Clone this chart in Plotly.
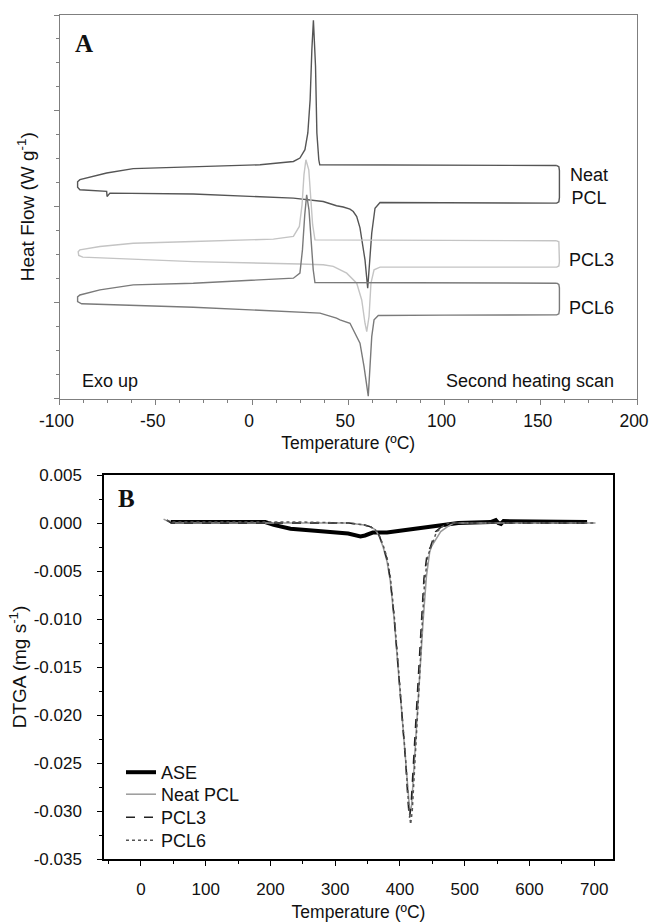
import plotly.graph_objects as go

# ---------------- Panel A : DSC (cooling + second heating loops) ----------------
dsc_neat_T = [158.3, 100, 40, 35.2, 34.7, 33.7, 33.0, 31.9, 31.1, 30.2, 29.0, 27.5, 24.9, 21.5, 4.2,
              -30.5, -61.7, -75.5, -89.4, -90.6, -90.6, -89.4, -75.5, -75.3, -74.5, -73.8, -30.5, 21.5,
              37, 43.9, 47.4, 50.9, 52.6, 54.4, 56.1, 58.7, 60.1, 61.3, 62.2, 63.9, 66.5, 100, 158.3,
              159.4, 159.7, 159.7, 159.4, 158.3]
dsc_neat_HF = [9.72, 9.73, 9.75, 9.75, 9.96, 11.08, 13.86, 15.78, 14.56, 12.47, 11.08, 10.38, 10.03, 9.89,
               9.75, 9.66, 9.59, 9.41, 9.13, 9.04, 8.81, 8.71, 8.64, 8.43, 8.52, 8.57, 8.53, 8.36, 8.22,
               8.04, 7.99, 7.90, 7.80, 7.59, 7.12, 5.78, 4.60, 5.78, 6.90, 7.94, 8.18, 8.17, 8.15, 8.21,
               8.38, 9.51, 9.67, 9.72]

dsc_pcl3_T = [158.3, 100, 35, 32.7, 31.5, 30.5, 29.5, 28.0, 27.0, 26.0, 24.6, 21.5, 11.1, -30.5, -61.7,
              -79, -89.4, -90.3, -90.0, -87.9, -30.5, 24.9, 37, 42.2, 49.2, 54.4, 57, 58.7, 59.6, 60.8,
              61.8, 63.4, 66.5, 158.3, 159.4, 159.7, 159.7, 159.4, 158.3]
dsc_pcl3_HF = [6.58, 6.59, 6.62, 6.62, 7.25, 8.50, 9.54, 9.96, 9.34, 8.08, 7.18, 6.76, 6.65, 6.55, 6.48,
               6.34, 6.20, 6.12, 5.97, 5.90, 5.71, 5.61, 5.58, 5.51, 5.23, 4.81, 4.11, 3.14, 2.79, 3.42,
               4.81, 5.37, 5.48, 5.48, 5.53, 5.70, 6.41, 6.54, 6.58]

dsc_pcl6_T = [158.3, 100, 35, 32.7, 31.8, 30.8, 29.6, 28.4, 27.4, 26.2, 24.9, 21.5, -30.5, -61.7, -79,
              -89.4, -90.6, -90.6, -88.5, -30.5, 21.5, 35.3, 43.9, 45.7, 50.9, 52.6, 54.4, 56.1, 58.2,
              59.6, 60.4, 61.3, 62.2, 63.4, 65.6, 100, 158.3, 159.4, 159.7, 159.7, 159.4, 158.3]
dsc_pcl6_HF = [4.81, 4.82, 4.82, 4.84, 5.37, 6.62, 7.87, 8.50, 7.66, 6.20, 5.23, 5.02, 4.81, 4.74, 4.53,
               4.32, 4.24, 4.04, 3.95, 3.81, 3.63, 3.56, 3.35, 3.28, 3.14, 2.86, 2.58, 2.31, 1.33, 0.63,
               0.10, 1.33, 2.58, 3.28, 3.46, 3.48, 3.49, 3.53, 3.70, 4.62, 4.76, 4.81]

a_xticks = [-100, -50, 0, 50, 100, 150, 200]
a_xticktext = ["-100", "-50", "0", "50", "100", "150", "200"]

# ---------------- Panel B : DTGA ----------------
tga_ase_T = [46, 100, 150, 192, 205, 231, 269, 295, 320, 339, 346, 358, 380, 400, 430, 450, 475, 490,
             540, 545, 548, 552, 556, 560, 563, 600, 650, 689]
tga_ase = [0.0001, 0.0001, 0.0001, 0.0001, -0.0002, -0.0006, -0.0008, -0.0009, -0.0011, -0.0014,
           -0.0013, -0.0010, -0.0010, -0.0008, -0.0005, -0.0003, -0.0001, 0.0000, 0.0001, 0.0003,
           0.0003, 0.0000, -0.0001, 0.0002, 0.0002, 0.0001, 0.0002, 0.0001]

tga_neat_T = [35, 40, 47, 150, 250, 320, 345, 355, 362, 368, 374, 380, 385, 388, 391, 397, 403, 409, 413,
              415.5, 418, 422, 427, 432, 436, 441, 446, 449, 454, 463, 473, 483, 550, 650, 702]
tga_neat = [0.0004, 0.0002, 0.0, 0.0, 0.0, 0.0, -0.0002, -0.0004, -0.0007, -0.0014, -0.0025, -0.0040,
            -0.0060, -0.0080, -0.0100, -0.0150, -0.0200, -0.0250, -0.0285, -0.0303, -0.0294, -0.0250,
            -0.0200, -0.0150, -0.0100, -0.0055, -0.0030, -0.0024, -0.0019, -0.0009, -0.0004, 0.0, 0.0,
            0.0, 0.0]

tga_pcl3_T = [40, 47, 150, 250, 320, 345, 355, 362, 368, 374, 380, 385, 388, 391, 397, 403, 409, 412,
              414.5, 417, 420, 424, 428, 433, 437, 442, 447, 450, 455, 464, 474, 484, 550, 650, 700]
tga_pcl3 = [0.0003, 0.0, 0.0, 0.0, 0.0, -0.0002, -0.0004, -0.0007, -0.0013, -0.0024, -0.0038, -0.0058,
            -0.0078, -0.0098, -0.0148, -0.0198, -0.0250, -0.0285, -0.0308, -0.0296, -0.0262, -0.0210,
            -0.0160, -0.0105, -0.0058, -0.0032, -0.0025, -0.0019, -0.0009, -0.0004, 0.0, 0.0, 0.0, 0.0,
            0.0]

tga_pcl6_T = [40, 47, 150, 250, 320, 345, 355, 362, 368, 374, 380, 385, 388, 391, 397, 403, 409, 413,
              416.5, 419, 422, 426, 430, 434, 438, 443, 448, 451, 456, 465, 475, 485, 550, 650, 700]
tga_pcl6 = [0.0003, 0.0001, 0.0001, 0.0001, 0.0, -0.0002, -0.0004, -0.0007, -0.0013, -0.0023, -0.0036,
            -0.0055, -0.0075, -0.0095, -0.0145, -0.0195, -0.0248, -0.0290, -0.0314, -0.0300, -0.0265,
            -0.0215, -0.0165, -0.0110, -0.0062, -0.0034, -0.0026, -0.0020, -0.0010, -0.0004, 0.0, 0.0,
            0.0, 0.0, 0.0]

b_xticks = [0, 100, 200, 300, 400, 500, 600, 700]
b_xticktext = ["0", "100", "200", "300", "400", "500", "600", "700"]
b_yticks = [0.005, 0.0, -0.005, -0.010, -0.015, -0.020, -0.025, -0.030, -0.035]
b_yticktext = ["0.005", "0.000", "-0.005", "-0.010", "-0.015", "-0.020", "-0.025", "-0.030", "-0.035"]

FONT = "Liberation Sans, Arial, sans-serif"
SERIF = "Liberation Serif, Times New Roman, serif"

fig = go.Figure()

# Panel A traces
for T, HF, col in [(dsc_neat_T, dsc_neat_HF, "#555555"),
                   (dsc_pcl3_T, dsc_pcl3_HF, "#c4c4c4"),
                   (dsc_pcl6_T, dsc_pcl6_HF, "#7a7a7a")]:
    fig.add_trace(go.Scatter(x=T, y=HF, mode="lines", line=dict(color=col, width=1.4),
                             showlegend=False, xaxis="x", yaxis="y", hoverinfo="skip"))

# Panel B traces (each in its own legend so rows can be spaced like the original)
fig.add_trace(go.Scatter(x=tga_ase_T, y=tga_ase, mode="lines", name="ASE", legend="legend",
                         line=dict(color="#000000", width=4), xaxis="x2", yaxis="y2"))
fig.add_trace(go.Scatter(x=tga_neat_T, y=tga_neat, mode="lines", name="Neat PCL", legend="legend2",
                         line=dict(color="#9a9a9a", width=1.5), xaxis="x2", yaxis="y2"))
fig.add_trace(go.Scatter(x=tga_pcl3_T, y=tga_pcl3, mode="lines", name="PCL3", legend="legend3",
                         line=dict(color="#222222", width=1.5, dash="dash"), xaxis="x2", yaxis="y2"))
fig.add_trace(go.Scatter(x=tga_pcl6_T, y=tga_pcl6, mode="lines", name="PCL6", legend="legend4",
                         line=dict(color="#555555", width=1.5, dash="dot"), xaxis="x2", yaxis="y2"))

# body margin is removed in the page, so the figure fills the 651x922 window exactly
W, H = 651, 922
A_dom_x = [59.5 / W, 637 / W]
A_dom_y = [1 - 398.5 / H, 1 - 15 / H]
B_dom_x = [104 / W, 613 / W]
B_dom_y = [1 - 859 / H, 1 - 475 / H]


def leg(top_px):
    return dict(x=121 / W, y=1 - top_px / H, xanchor="left", yanchor="top",
                bgcolor="rgba(0,0,0,0)", borderwidth=0, font=dict(size=18, family=FONT, color="#111"),
                itemwidth=30)


gA = "#7f7f7f"
fig.update_layout(
    width=W, height=H, autosize=False,
    margin=dict(l=0, r=0, t=0, b=0, autoexpand=False),
    paper_bgcolor="white", plot_bgcolor="white",
    font=dict(family=FONT, color="#111111", size=17),
    xaxis=dict(domain=A_dom_x, anchor="y", range=[-100, 200], tickmode="array", automargin=False,
               tickvals=a_xticks, ticktext=a_xticktext, ticks="outside", ticklen=5,
               tickcolor=gA, showline=True, linecolor=gA, linewidth=1, mirror=True,
               showgrid=False, zeroline=False, tickfont=dict(size=17.5), ticklabelstandoff=1,
               ticklabelshift=-3, ticklabeloverflow="allow",
               minor=dict(ticks="outside", ticklen=3, tickcolor=gA, tickmode="linear",
                          tick0=-100, dtick=12.5, showgrid=False),
               title=dict(text="Temperature (ºC)", font=dict(size=17.5), standoff=7)),
    yaxis=dict(domain=A_dom_y, anchor="x", range=[0, 16], tickmode="linear", tick0=0, dtick=4,
               automargin=False,
               ticks="outside", ticklen=5, tickcolor=gA, showticklabels=False,
               showline=True, linecolor=gA, linewidth=1, mirror=True, showgrid=False,
               zeroline=False,
               minor=dict(ticks="outside", ticklen=3, tickcolor=gA, tickmode="linear",
                          tick0=0, dtick=1, showgrid=False),
               title=dict(text="Heat Flow (W g<sup>-1</sup>)", font=dict(size=19), standoff=13)),
    xaxis2=dict(domain=B_dom_x, anchor="y2", range=[-57, 729], tickmode="array", automargin=False,
                tickvals=b_xticks, ticktext=b_xticktext, ticks="outside", ticklen=5,
                tickcolor="#000", showline=True, linecolor="#000", linewidth=1.5, mirror=True,
                showgrid=False, zeroline=False, tickfont=dict(size=17), ticklabelstandoff=9,
                ticklabeloverflow="allow",
                minor=dict(ticks="outside", ticklen=3, tickcolor="#000", tickmode="linear",
                           tick0=0, dtick=50, showgrid=False),
                title=dict(text="Temperature (ºC)", font=dict(size=17.5), standoff=11)),
    yaxis2=dict(domain=B_dom_y, anchor="x2", range=[-0.035, 0.005], tickmode="array",
                automargin=False,
                tickvals=b_yticks, ticktext=b_yticktext, ticks="outside", ticklen=5,
                tickcolor="#000", showline=True, linecolor="#000", linewidth=1.5, mirror=True,
                showgrid=False, zeroline=False, tickfont=dict(size=17), ticklabelstandoff=12,
                ticklabeloverflow="allow",
                minor=dict(ticks="outside", ticklen=3, tickcolor="#000", tickmode="linear",
                           tick0=0, dtick=0.0025, showgrid=False),
                title=dict(text="DTGA (mg s<sup>-1</sup>)", font=dict(size=19), standoff=2)),
    legend=leg(754), legend2=leg(776), legend3=leg(799), legend4=leg(822),
    annotations=[
        dict(text="<b>A</b>", xref="x domain", yref="y domain", x=0.042, y=0.926,
             xanchor="center", yanchor="middle",
             showarrow=False, font=dict(family=SERIF, size=25, color="#111")),
        dict(text="Neat<br>PCL", xref="x domain", yref="y domain", x=0.917, y=0.552,
             xanchor="center", yanchor="middle", showarrow=False, font=dict(size=18)),
        dict(text="PCL3", xref="x domain", yref="y domain", x=0.922, y=0.361,
             xanchor="center", yanchor="middle", showarrow=False, font=dict(size=18)),
        dict(text="PCL6", xref="x domain", yref="y domain", x=0.922, y=0.235,
             xanchor="center", yanchor="middle", showarrow=False, font=dict(size=18)),
        dict(text="Exo up", xref="x domain", yref="y domain", x=0.0355, y=0.0456,
             xanchor="left", yanchor="middle", showarrow=False, font=dict(size=18)),
        dict(text="Second heating scan", xref="x domain", yref="y domain", x=0.9636, y=0.0456,
             xanchor="right", yanchor="middle", showarrow=False, font=dict(size=18)),
        dict(text="<b>B</b>", xref="x2 domain", yref="y2 domain", x=0.045, y=0.9375,
             xanchor="center", yanchor="middle",
             showarrow=False, font=dict(family=SERIF, size=25, color="#111")),
    ],
)

fig.write_html(
    "out.html",
    config={"displayModeBar": False},
    post_script=("document.documentElement.style.overflow='hidden';"
                 "document.body.style.overflow='hidden';document.body.style.margin='0';"),
)
